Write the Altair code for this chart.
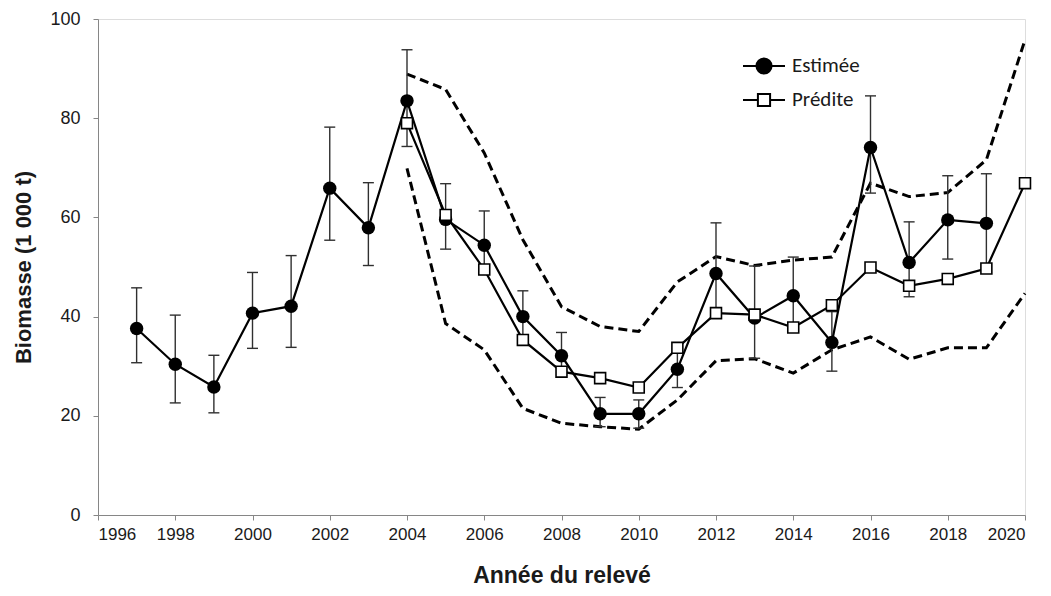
import altair as alt
import pandas as pd

# Biomasse estimée par le relevé (1 000 t), avec intervalle d'erreur
annees_est = list(range(1997, 2020))
estimee = [37.6, 30.4, 25.8, 40.7, 42.1, 65.9, 57.9, 83.5, 59.6, 54.4, 40.0, 32.1,
           20.4, 20.4, 29.4, 48.7, 39.7, 44.2, 34.8, 74.1, 50.9, 59.5, 58.8]
err_haut = [45.8, 40.3, 32.2, 48.9, 52.3, 78.2, 67.0, 93.8, 66.8, 61.3, 45.2, 36.8,
            23.7, 23.2, 33.5, 58.9, 50.2, 52.0, 41.0, 84.5, 59.1, 68.4, 68.8]
err_bas = [30.7, 22.6, 20.6, 33.6, 33.8, 55.4, 50.3, 74.3, 53.6, 48.5, 35.5, 28.5,
           17.8, 17.5, 25.7, 40.5, 31.6, 38.0, 29.0, 64.9, 44.0, 51.6, 50.0]

# Biomasse prédite par le modèle et son enveloppe
annees_pred = list(range(2004, 2021))
predite = [79.0, 60.5, 49.5, 35.3, 28.9, 27.6, 25.7, 33.7, 40.7, 40.4, 37.8, 42.3,
           49.9, 46.2, 47.6, 49.7, 66.9]
env_haut = [88.9, 85.8, 73.0, 55.5, 42.0, 38.0, 37.0, 47.0, 52.1, 50.3, 51.4, 52.0,
            66.9, 64.2, 65.0, 71.6, 95.8]
env_bas = [69.9, 38.6, 33.3, 21.5, 18.5, 17.8, 17.3, 23.2, 31.1, 31.5, 28.6, 33.3,
           35.9, 31.4, 33.7, 33.7, 44.7]

series = ["Estimée", "Prédite"]
x_ticks = list(range(1996, 2021, 2))
y_ticks = list(range(0, 101, 20))

df_est = pd.DataFrame({"annee": annees_est, "val": estimee, "haut": err_haut, "bas": err_bas})
df_pred = pd.DataFrame({"annee": annees_pred, "val": predite, "env_h": env_haut, "env_b": env_bas})

AXIS_GREY = "#868686"
TEXT = "#1a1a1a"

x_enc = alt.X(
    "annee:Q",
    scale=alt.Scale(domain=[1996, 2020], nice=False, zero=False),
    axis=alt.Axis(
        values=x_ticks, format="d", title="Année du relevé",
        labelFont="Liberation Sans Narrow, Liberation Sans, sans-serif", labelFontSize=17,
        labelColor=TEXT, labelPadding=6, tickSize=5, tickColor=AXIS_GREY,
        domainColor=AXIS_GREY,
        titleFont="Liberation Sans", titleFontSize=23, titleFontWeight="bold",
        titleColor=TEXT, titlePadding=22, grid=False,
    ),
)
y_scale = alt.Scale(domain=[0, 100], nice=False)
y_enc = alt.Y(
    "val:Q",
    scale=y_scale,
    axis=alt.Axis(
        values=y_ticks, title="Biomasse (1 000 t)",
        labelFont="Liberation Sans", labelFontSize=18, labelColor=TEXT,
        labelPadding=13, tickSize=5, tickColor=AXIS_GREY, domainColor=AXIS_GREY,
        titleFont="Liberation Sans", titleFontSize=22, titleFontWeight="bold",
        titleColor=TEXT, titlePadding=14, grid=False,
    ),
)

base_pred = alt.Chart(df_pred)
base_est = alt.Chart(df_est)

dash = [9, 5]
env_sup = base_pred.mark_line(color="black", strokeWidth=3, strokeDash=dash).encode(
    x=x_enc, y=alt.Y("env_h:Q", scale=y_scale))
env_inf = base_pred.mark_line(color="black", strokeWidth=3, strokeDash=dash).encode(
    x=x_enc, y=alt.Y("env_b:Q", scale=y_scale))

barres = base_est.mark_rule(color="#303030", strokeWidth=1.4).encode(
    x=x_enc, y=alt.Y("bas:Q", scale=y_scale), y2="haut:Q")
cap_haut = base_est.mark_rule(color="#303030", strokeWidth=1.4, xOffset=-5.5, x2Offset=5.5).encode(
    x=x_enc, x2="annee:Q", y=alt.Y("haut:Q", scale=y_scale))
cap_bas = base_est.mark_rule(color="#303030", strokeWidth=1.4, xOffset=-5.5, x2Offset=5.5).encode(
    x=x_enc, x2="annee:Q", y=alt.Y("bas:Q", scale=y_scale))

ligne_est = base_est.mark_line(color="black", strokeWidth=2.2).encode(x=x_enc, y=y_enc)
ligne_pred = base_pred.mark_line(color="black", strokeWidth=2.2).encode(x=x_enc, y=y_enc)

points_est = base_est.mark_point(shape="circle", filled=True, color="black", size=180, opacity=1).encode(
    x=x_enc, y=y_enc)
points_pred = base_pred.mark_point(shape="square", filled=True, fill="white", stroke="black",
                                   strokeWidth=1.6, size=120, opacity=1).encode(x=x_enc, y=y_enc)

# Legend symbols: a short line crossing the marker
sym_est = "M-1,0H1M-0.36,0A0.36,0.36,0,1,1,0.36,0A0.36,0.36,0,1,1,-0.36,0Z"
sym_pred = "M-1,0H-0.29M0.29,0H1M-0.29,-0.29H0.29V0.29H-0.29Z"

legend_def = alt.Legend(
    title=None, orient="none", legendX=644, legendY=25, padding=0, rowPadding=0,
    symbolSize=1764, symbolStrokeWidth=2, symbolOpacity=1,
    labelFont="Carlito, Lato, sans-serif", labelFontSize=21, labelColor=TEXT,
    labelOffset=6, labelBaseline="middle",
)

legende = alt.Chart(pd.DataFrame({"serie": pd.Series([], dtype=str),
                                  "annee": pd.Series([], dtype=float),
                                  "val": pd.Series([], dtype=float)})).mark_point(
    filled=True, size=1764, strokeWidth=2, opacity=1
).encode(
    x=x_enc, y=y_enc,
    shape=alt.Shape("serie:N", scale=alt.Scale(domain=series, range=[sym_est, sym_pred]),
                    legend=legend_def),
    fill=alt.Fill("serie:N", scale=alt.Scale(domain=series, range=["black", "white"]),
                  legend=legend_def),
    stroke=alt.Stroke("serie:N", scale=alt.Scale(domain=series, range=["black", "black"]),
                      legend=legend_def),
)

chart = alt.layer(
    env_sup, env_inf, barres, cap_haut, cap_bas, ligne_est, ligne_pred,
    points_est, points_pred, legende
).properties(
    width=927, height=496,
    autosize=alt.AutoSizeParams(type="none"),
    padding={"left": 98, "top": 19, "right": 26, "bottom": 81},
).configure_view(
    stroke=None
).configure(background="white")

chart.save("out.html", embed_options={"renderer": "svg", "actions": False})
